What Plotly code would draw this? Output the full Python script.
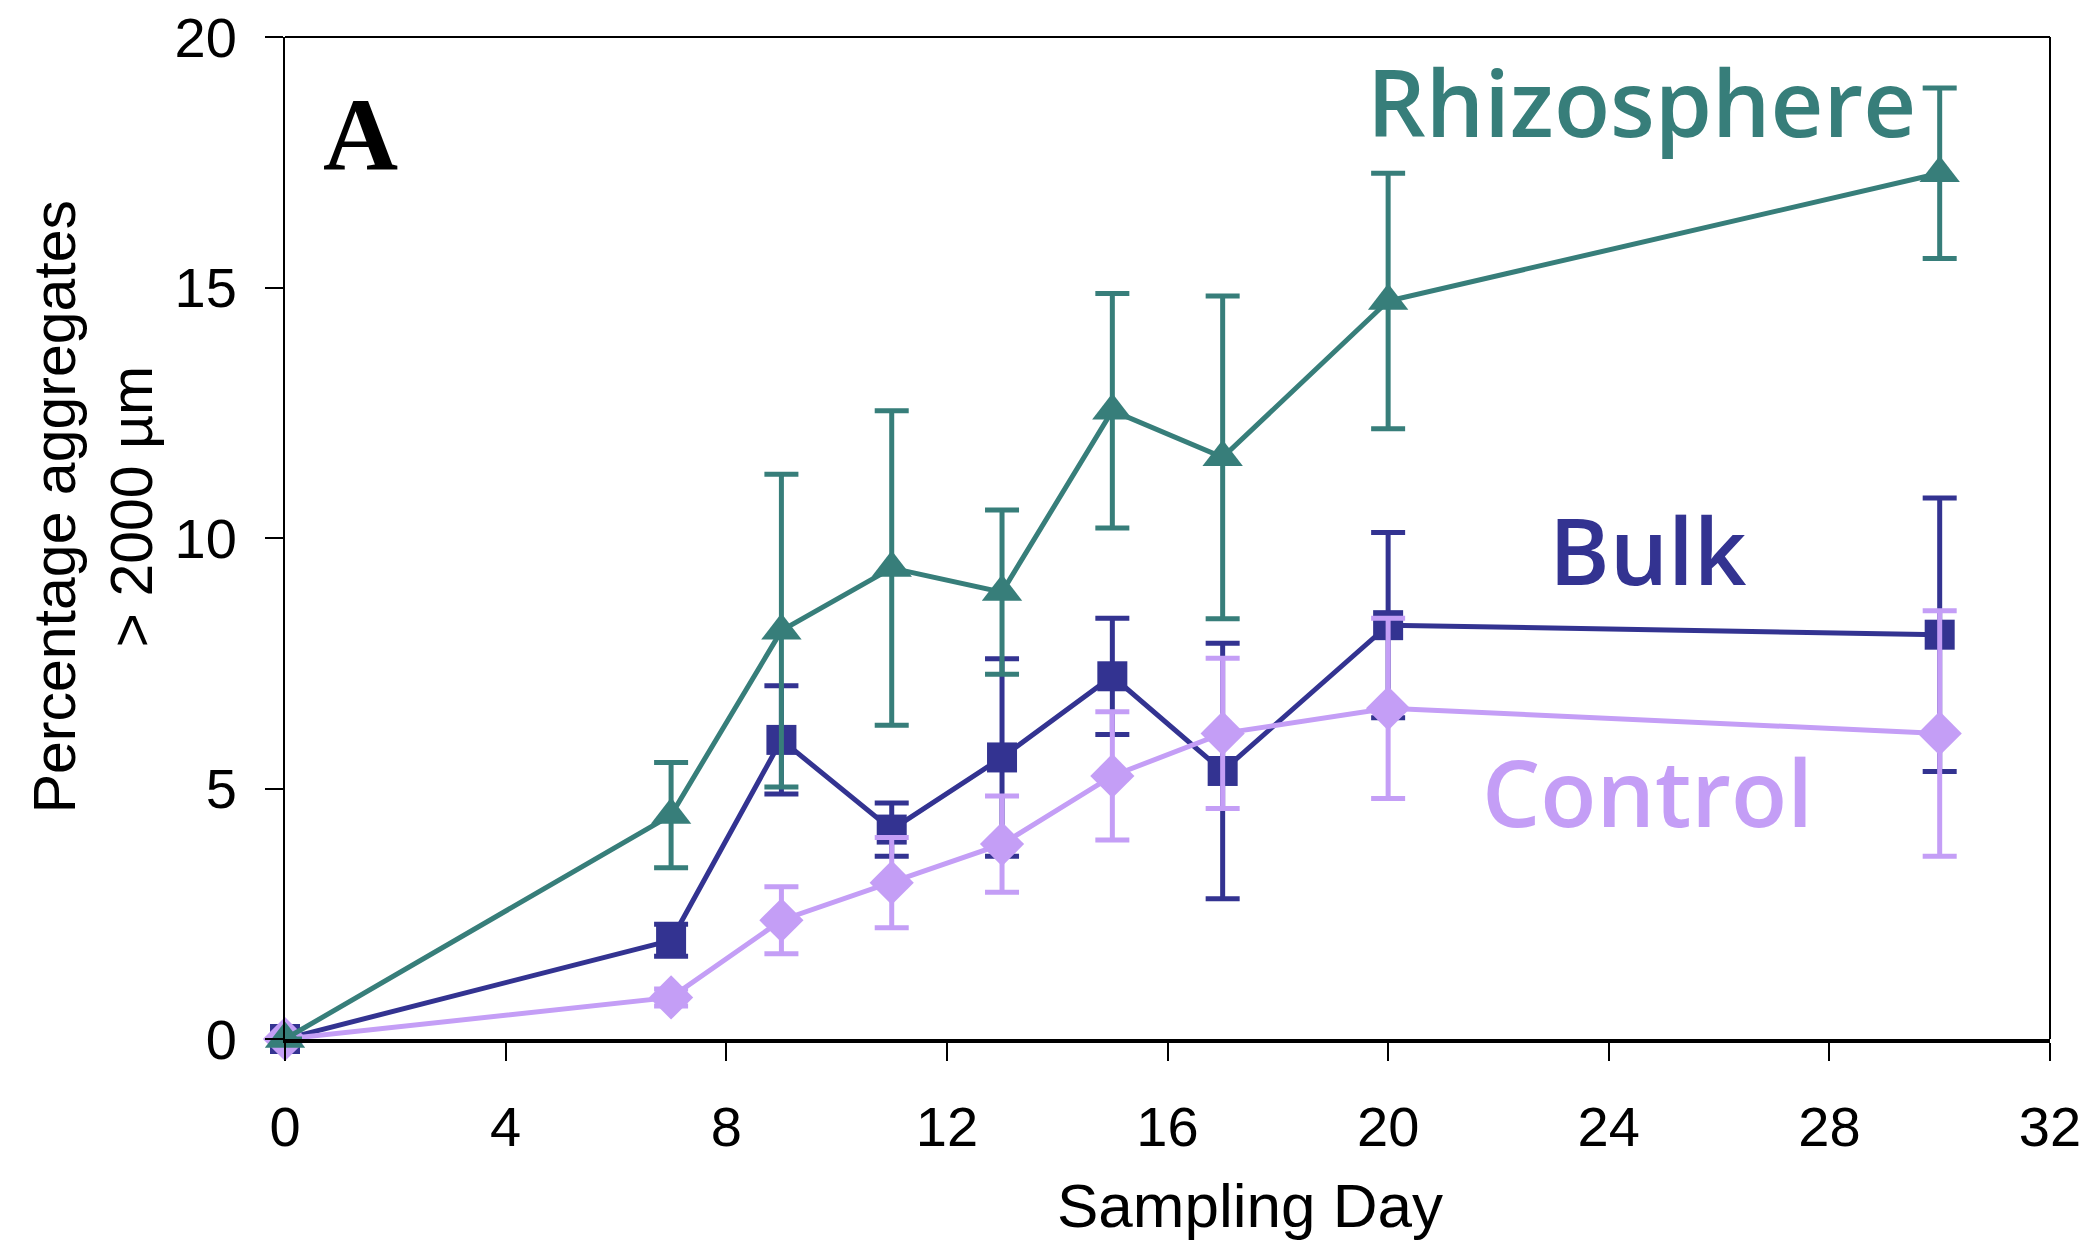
import plotly.graph_objects as go

days = [0, 7, 9, 11, 13, 15, 17, 20, 30]

rhizo = [0, 4.47, 8.15, 9.40, 8.92, 12.54, 11.61, 14.73, 17.28]
rhizo_err = [0, 1.05, 3.12, 3.14, 1.64, 2.34, 3.22, 2.55, 1.70]

bulk = [0, 1.97, 5.97, 4.18, 5.62, 7.24, 5.35, 8.26, 8.07]
bulk_err = [0, 0.32, 1.08, 0.53, 1.97, 1.16, 2.55, 1.85, 2.73]

control = [0, 0.83, 2.37, 3.12, 3.89, 5.25, 6.10, 6.60, 6.10]
control_err = [0, 0.17, 0.67, 0.90, 0.96, 1.28, 1.50, 1.80, 2.45]

x_ticks = [0, 4, 8, 12, 16, 20, 24, 28, 32]
y_ticks = [0, 5, 10, 15, 20]

TEAL = "#377E7A"
NAVY = "#333391"
LAV = "#C49EF6"

fig = go.Figure()

def add_series(y, err, color, symbol, size, name):
    fig.add_trace(go.Scatter(
        x=days, y=y, name=name, mode="lines+markers",
        line=dict(color=color, width=5),
        marker=dict(symbol=symbol, size=size, color=color, line=dict(width=0)),
        error_y=dict(type="data", array=err, visible=True, color=color,
                     thickness=5, width=17),
        cliponaxis=False,
    ))

add_series(bulk, bulk_err, NAVY, "square", 30, "Bulk")
add_series(control, control_err, LAV, "diamond", 34, "Control")
add_series(rhizo, rhizo_err, TEAL, "triangle-up", 35, "Rhizosphere")

font_ax = "Liberation Sans, Arial, sans-serif"

fig.update_layout(
    width=2092, height=1247,
    margin=dict(l=277, r=50, t=29, b=216, autoexpand=False),
    paper_bgcolor="white", plot_bgcolor="white",
    showlegend=False,
    font=dict(family=font_ax, size=56, color="black"),
    xaxis=dict(range=[0, 32], tickvals=x_ticks, ticktext=[str(v) for v in x_ticks],
               showgrid=False, zeroline=False, showline=True, linecolor="black",
               linewidth=4, ticks="outside", ticklen=18, tickwidth=2, tickcolor="black",
               ticklabelstandoff=18, ticklabeloverflow="allow", automargin=False,
               tickfont=dict(family=font_ax, size=56, color="black")),
    yaxis=dict(range=[0, 20], tickvals=y_ticks, ticktext=[str(v) for v in y_ticks],
               showgrid=False, zeroline=False, showline=True, linecolor="black",
               linewidth=2, ticks="outside", ticklen=18, tickwidth=2, tickcolor="black",
               ticklabelstandoff=17, ticklabeloverflow="allow", automargin=False,
               tickfont=dict(family=font_ax, size=56, color="black")),
)

fig.add_shape(type="line", xref="paper", yref="paper", x0=0, x1=1, y0=1, y1=1,
              line=dict(color="black", width=2))
fig.add_shape(type="line", xref="paper", yref="paper", x0=1, x1=1, y0=0, y1=1,
              line=dict(color="black", width=2))

fig.add_annotation(text="Sampling Day", xref="paper", yref="paper", x=0.547, y=-0.166,
                   xanchor="center", yanchor="middle", showarrow=False,
                   font=dict(family=font_ax, size=62, color="black"))
fig.add_annotation(text="Percentage aggregates<br>> 2000 µm", xref="paper", yref="paper",
                   x=-0.108, y=0.531, xanchor="center", yanchor="middle", textangle=-90,
                   showarrow=False, font=dict(family=font_ax, size=59, color="black"))
fig.add_annotation(text="<b>A</b>", xref="paper", yref="paper", x=0.043, y=0.903,
                   xanchor="center", yanchor="middle", showarrow=False,
                   font=dict(family="Liberation Serif, Times New Roman, serif", size=104, color="black"))

label_font = "Open Sans, Noto Sans, sans-serif"
fig.add_annotation(text="Rhizosphere", xref="x", yref="y", x=24.6, y=18.72,
                   xanchor="center", yanchor="middle", showarrow=False,
                   font=dict(family=label_font, size=92, color=TEAL, weight=600))
fig.add_annotation(text="Bulk", xref="x", yref="y", x=24.72, y=9.78,
                   xanchor="center", yanchor="middle", showarrow=False,
                   font=dict(family=label_font, size=92, color=NAVY, weight=600))
fig.add_annotation(text="Control", xref="x", yref="y", x=24.7, y=4.95,
                   xanchor="center", yanchor="middle", showarrow=False,
                   font=dict(family=label_font, size=92, color=LAV, weight=600))

fig.write_html("out.html")
